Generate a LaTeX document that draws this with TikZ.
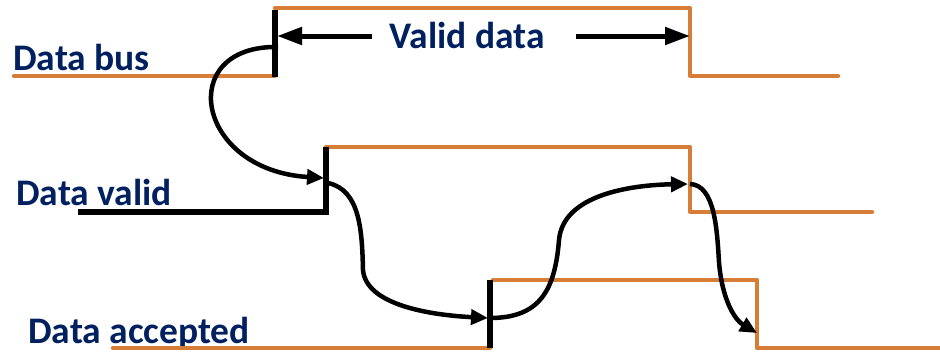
\documentclass[tikz,border=0pt]{standalone}
\usepackage{fontspec}
\setmainfont{Carlito}
\usetikzlibrary{arrows.meta}
\definecolor{waveorange}{RGB}{214,125,55}
\definecolor{labelblue}{RGB}{0,32,96}
\tikzset{
	wave/.style={draw=waveorange, line width=4.5pt, line cap=round, line join=round},
	edge/.style={draw=black, line width=5.5pt},
	link/.style={draw, line width=4.5pt, -{Triangle[length=17pt, width=15pt]}},
	span/.style={draw, line width=5pt, -{Triangle[length=25pt, width=17pt]}},
	signame/.style={font=\fontsize{37.5}{42}\selectfont\bfseries, text=labelblue, inner sep=0pt, anchor=base west}
}
\begin{document}
\begin{tikzpicture}[x=1pt, y=-1pt]
	\useasboundingbox (0,0) rectangle (940,351);
	
	% Signal names
	\node[signame] (busname) at (13,70) {Data bus};
	\node[signame] (validname) at (16,205) {Data valid};
	\node[signame] (acceptname) at (28,343) {Data accepted};
	
	% Data bus waveform
	\draw[wave] (14,76) -- (275,76);
	\draw[wave] (275,8) -- (690,8) -- (690,76) -- (838,76);
	\draw[edge] (275,10) -- (275,77);
	
	% Data valid waveform
	\draw[wave] (326,147) -- (690,147) -- (690,212) -- (872,212);
	\draw[edge] (78,212) -- (326,212) -- (326,147);
	
	% Data accepted waveform
	\draw[wave] (113,348) -- (490,348);
	\draw[wave] (493,280) -- (757,280) -- (757,348) -- (940,348);
	\draw[edge] (490,280) -- (490,348);
	
	% Points on the edges
	\coordinate (busup) at (278,47);
	\coordinate (validup) at (324,178);
	\coordinate (validfrom) at (328,183);
	\coordinate (acceptup) at (488,318);
	\coordinate (acceptfrom) at (490,318);
	\coordinate (validdown) at (688,184);
	\coordinate (validdownfrom) at (690,184);
	\coordinate (acceptdown) at (757,333);
	\coordinate (spanleft) at (277,36);
	\coordinate (spanright) at (690,36);
	
	% Valid data interval
	\node[signame, anchor=base] (spanname) at (467,48) {Valid data};
	\draw[span] (372,36) -- (spanleft);
	\draw[span] (576,36) -- (spanright);
	
	% Handshake sequence
	\draw[link] (busup) .. controls (175,45) and (195,170) .. (validup);
	\draw[link] (validfrom) .. controls (360,190) and (362,230) .. (363,270) .. controls (366,305) and (430,315) .. (acceptup);
	\draw[link] (acceptfrom) .. controls (540,318) and (555,290) .. (559,240) .. controls (563,195) and (630,185) .. (validdown);
	\draw[link] (validdownfrom) .. controls (715,185) and (717,230) .. (719,262) .. controls (722,300) and (735,320) .. (acceptdown);
\end{tikzpicture}
\end{document}
